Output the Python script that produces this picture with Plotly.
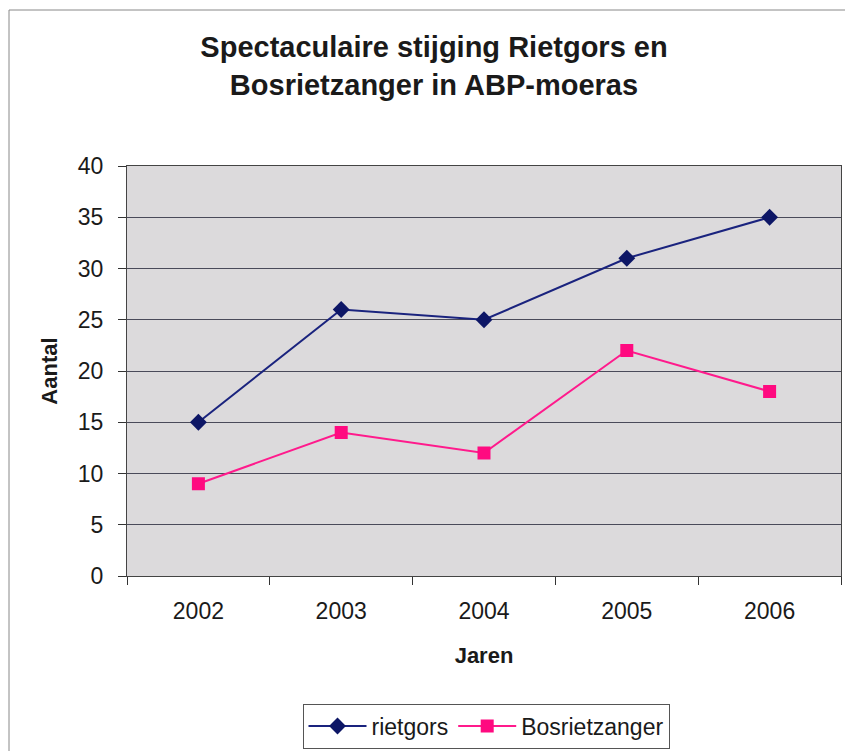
import plotly.graph_objects as go

years = ["2002", "2003", "2004", "2005", "2006"]
rietgors = [15, 26, 25, 31, 35]
bosrietzanger = [9, 14, 12, 22, 18]
y_ticks = [0, 5, 10, 15, 20, 25, 30, 35, 40]

FONT = "Liberation Sans, Arial, sans-serif"

OFF = 8
W, H = 853 - OFF, 751 - OFF
L, T = 127 - OFF, 166 - OFF
R = W - (841 - OFF)
B = H - (576 - OFF)
pw = W - L - R
ph = H - T - B

fig = go.Figure()
fig.add_trace(go.Scatter(
    x=years, y=rietgors, name="rietgors", mode="lines+markers",
    line=dict(color="#1a237e", width=2),
    marker=dict(symbol="diamond", size=13, color="#0d1666"),
))
fig.add_trace(go.Scatter(
    x=years, y=bosrietzanger, name="Bosrietzanger", mode="lines+markers",
    line=dict(color="#ff1a8c", width=2),
    marker=dict(symbol="square", size=13, color="#ff0a80"),
))

fig.update_layout(
    width=W, height=H,
    margin=dict(l=L, r=R, t=T, b=B, autoexpand=False),
    paper_bgcolor="white",
    plot_bgcolor="#dcdadc",
    font=dict(family=FONT, size=23, color="#1a1a1a"),
    title=dict(
        text="<b>Spectaculaire stijging Rietgors en<br>Bosrietzanger in ABP-moeras</b>",
        x=(434 - OFF - L) / pw, xref="paper", xanchor="center",
        y=1 - (57 - OFF) / H, yanchor="middle",
        font=dict(family=FONT, size=29, color="#1a1a1a"),
    ),
    xaxis=dict(
        type="category",
        range=[-0.5, len(years) - 0.5],
        tickson="boundaries",
        automargin=False,
        ticks="outside", ticklen=8, tickcolor="#333",
        ticklabelstandoff=14,
        showline=True, linecolor="#444", linewidth=1, mirror=True,
        showgrid=False,
        tickfont=dict(size=23),
        title=dict(text="<b>Jaren</b>", font=dict(size=22), standoff=25),
    ),
    yaxis=dict(
        range=[0, 40],
        tickvals=y_ticks,
        automargin=False,
        ticks="outside", ticklen=8, tickcolor="#333",
        ticklabelstandoff=10,
        showline=True, linecolor="#444", linewidth=1, mirror=True,
        showgrid=True, gridcolor="#4a4a5a", gridwidth=1,
        zeroline=False,
        tickfont=dict(size=23),
        title=dict(text="<b>Aantal</b>", font=dict(size=22), standoff=14),
    ),
    legend=dict(
        orientation="h",
        x=(486 - OFF - L) / pw, xanchor="center",
        y=-(726 - 576) / ph, yanchor="middle",
        bordercolor="#555", borderwidth=1,
        bgcolor="white",
        font=dict(size=23),
        itemwidth=58,
    ),
    showlegend=True,
)

fig.add_shape(
    type="rect", xref="paper", yref="paper",
    x0=(1 - L) / pw, x1=(W + 20 - L) / pw,
    y0=-(H + 20 - T - ph) / ph, y1=1 + (T - 2) / ph,
    line=dict(color="#888", width=1), fillcolor="rgba(0,0,0,0)",
    layer="below",
)

fig.write_html("out.html")
